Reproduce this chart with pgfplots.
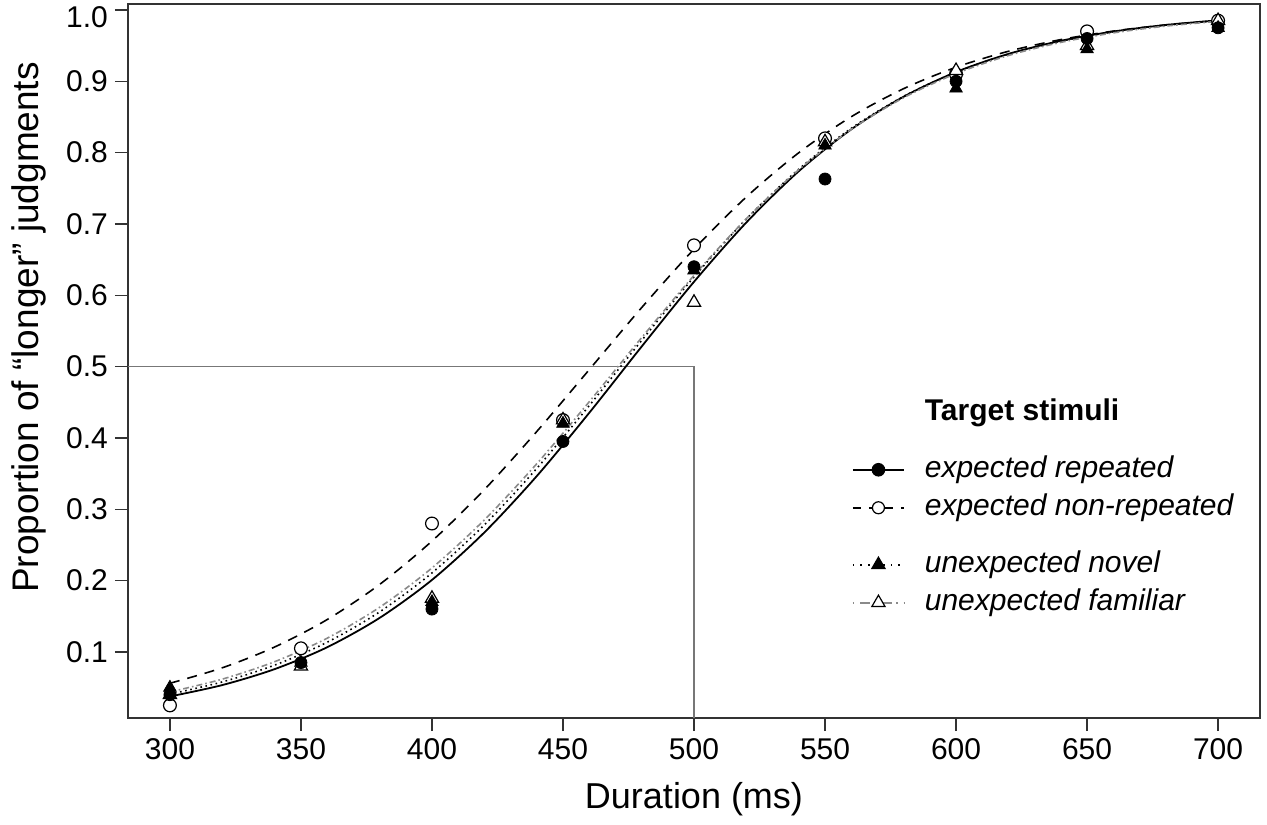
\documentclass[border=0pt]{standalone}
\usepackage{fontspec}
\setmainfont{Liberation Sans}
\usepackage{pgfplots}
\pgfplotsset{compat=1.18}
\usepackage{pgfplotstable}

% fitted curves (at 20 ms steps)
\pgfplotstableread{
x    er     enr    un     uf
300  0.0375 0.0560 0.0408 0.0439
320  0.0535 0.0777 0.0579 0.0618
340  0.0759 0.1069 0.0815 0.0863
360  0.1065 0.1453 0.1135 0.1192
380  0.1476 0.1945 0.1560 0.1625
400  0.2009 0.2554 0.2107 0.2177
420  0.2675 0.3275 0.2781 0.2851
440  0.3465 0.4090 0.3573 0.3638
460  0.4351 0.4956 0.4452 0.4506
480  0.5280 0.5826 0.5366 0.5405
500  0.6189 0.6647 0.6257 0.6278
520  0.7022 0.7379 0.7070 0.7074
540  0.7740 0.7999 0.7769 0.7761
560  0.8326 0.8503 0.8341 0.8326
580  0.8784 0.8897 0.8789 0.8770
600  0.9130 0.9197 0.9128 0.9108
620  0.9384 0.9421 0.9380 0.9362
640  0.9568 0.9585 0.9562 0.9546
660  0.9698 0.9704 0.9693 0.9679
680  0.9790 0.9790 0.9785 0.9774
700  0.9855 0.9851 0.9850 0.9841
}\curves

% observed proportions
\pgfplotstableread{
x    er    enr   un    uf
300  0.040 0.025 0.050 0.040
350  0.085 0.105 0.085 0.080
400  0.160 0.280 0.170 0.175
450  0.395 0.425 0.420 0.425
500  0.640 0.670 0.635 0.590
550  0.763 0.820 0.810 0.815
600  0.900 0.910 0.890 0.915
650  0.960 0.970 0.945 0.950
700  0.975 0.985 0.975 0.985
}\points

\definecolor{framegray}{HTML}{333333}
\definecolor{refgray}{HTML}{777777}
\definecolor{famgray}{HTML}{8A8A8A}

\begin{document}
\begin{tikzpicture}
\begin{axis}[
  scale only axis,
  width=566pt, height=357pt,
  xmin=284, xmax=716, ymin=0.0073, ymax=1.0084,
  xtick={300,350,...,700},
  ytick={0.1,0.2,0.3,0.4,0.5,0.6,0.7,0.8,0.9,1.0},
  yticklabels={0.1,0.2,0.3,0.4,0.5,0.6,0.7,0.8,0.9,{\smash{\raisebox{-3.5pt}{1.0}}\vphantom{1.0}}},
  /pgf/number format/assume math mode=true,
  tick label style={font=\fontsize{15}{18}\selectfont, text=black},
  tick align=outside,
  major tick length=6.5pt,
  tick style={framegray, line width=0.7pt},
  xtick pos=bottom, ytick pos=left,
  axis line style={framegray, line width=0.8pt},
  xlabel={Duration (ms)},
  ylabel={Proportion of “longer” judgments},
  xlabel style={font=\fontsize{18}{21}\selectfont, at={(axis description cs:0.5,0)}, anchor=base, yshift=-45pt},
  ylabel style={font=\fontsize{18.5}{22}\selectfont, at={(axis description cs:-0.0795,0.547)}, anchor=base},
  legend image code/.code={\draw[mark repeat=2,mark phase=2,#1] plot coordinates {(0cm,3.9pt) (0.45cm,3.9pt) (0.9cm,3.9pt)};},
  legend cell align=left,
  legend style={at={(axis description cs:0.6396,0.453)}, anchor=north west,
    draw=none, fill=none, inner sep=0pt, outer sep=0pt, row sep=0pt, column sep=10pt,
    font=\fontsize{15}{18}\selectfont,
    cells={anchor=base west},
    nodes={inner sep=0pt, text depth=, text height=}},
]
% reference lines at 0.5 / 500 ms
\addplot[refgray, line width=0.7pt, forget plot] coordinates {(284,0.5) (500,0.5) (500,0.0073)};

% fitted curves
\addplot[black, line width=0.9pt, smooth, no marks, forget plot] table[x=x,y=er] {\curves};
\addplot[black, line width=0.8pt, dash pattern=on 5pt off 4pt, smooth, no marks, forget plot] table[x=x,y=enr] {\curves};
\addplot[black, line width=0.8pt, dash pattern=on 0.8pt off 1.8pt, smooth, no marks, forget plot] table[x=x,y=un] {\curves};
\addplot[famgray, line width=0.8pt, dash pattern=on 3pt off 1.5pt on 0.8pt off 1.5pt, smooth, no marks, forget plot] table[x=x,y=uf] {\curves};

% observed points
\addplot[only marks, mark=*, mark size=3.2pt, mark options={draw=black, fill=white, line width=0.6pt}, forget plot] table[x=x,y=enr] {\points};
\addplot[only marks, mark=triangle*, mark size=3.8pt, mark options={draw=black, fill=white, line width=0.6pt}, forget plot] table[x=x,y=uf] {\points};
\addplot[only marks, mark=*, mark size=3pt, mark options={draw=black, fill=black}, forget plot] table[x=x,y=er] {\points};
\addplot[only marks, mark=triangle*, mark size=3.6pt, mark options={draw=black, fill=black}, forget plot] table[x=x,y=un] {\points};

% legend
\addlegendimage{empty legend}
\addlegendentry{\textbf{Target stimuli}\rule[-15.5pt]{0pt}{28.5pt}}
\addlegendimage{black, line width=0.8pt, mark=*, mark size=3pt, mark options={solid, fill=black}}
\addlegendentry{\itshape expected repeated\rule[-6pt]{0pt}{19pt}}
\addlegendimage{black, line width=0.8pt, dash pattern=on 4pt off 4pt, mark=*, mark size=3pt, mark options={solid, fill=white, line width=0.6pt}}
\addlegendentry{\itshape expected non-repeated\rule[-15.5pt]{0pt}{28.5pt}}
\addlegendimage{black, line width=0.8pt, dash pattern=on 0.8pt off 3pt, mark=triangle*, mark size=3.6pt, mark options={solid, fill=black}}
\addlegendentry{\itshape unexpected novel\rule[-6pt]{0pt}{19pt}}
\addlegendimage{famgray, line width=0.8pt, dash pattern=on 0.8pt off 3pt on 5pt off 2pt, mark=triangle*, mark size=3.8pt, mark options={solid, draw=black, fill=white, line width=0.6pt}}
\addlegendentry{\itshape unexpected familiar\rule[-6pt]{0pt}{19pt}}
\end{axis}
\pgfresetboundingbox
\path[use as bounding box] (-64pt,-53pt) rectangle (569.5pt,359pt);
\end{tikzpicture}
\end{document}
